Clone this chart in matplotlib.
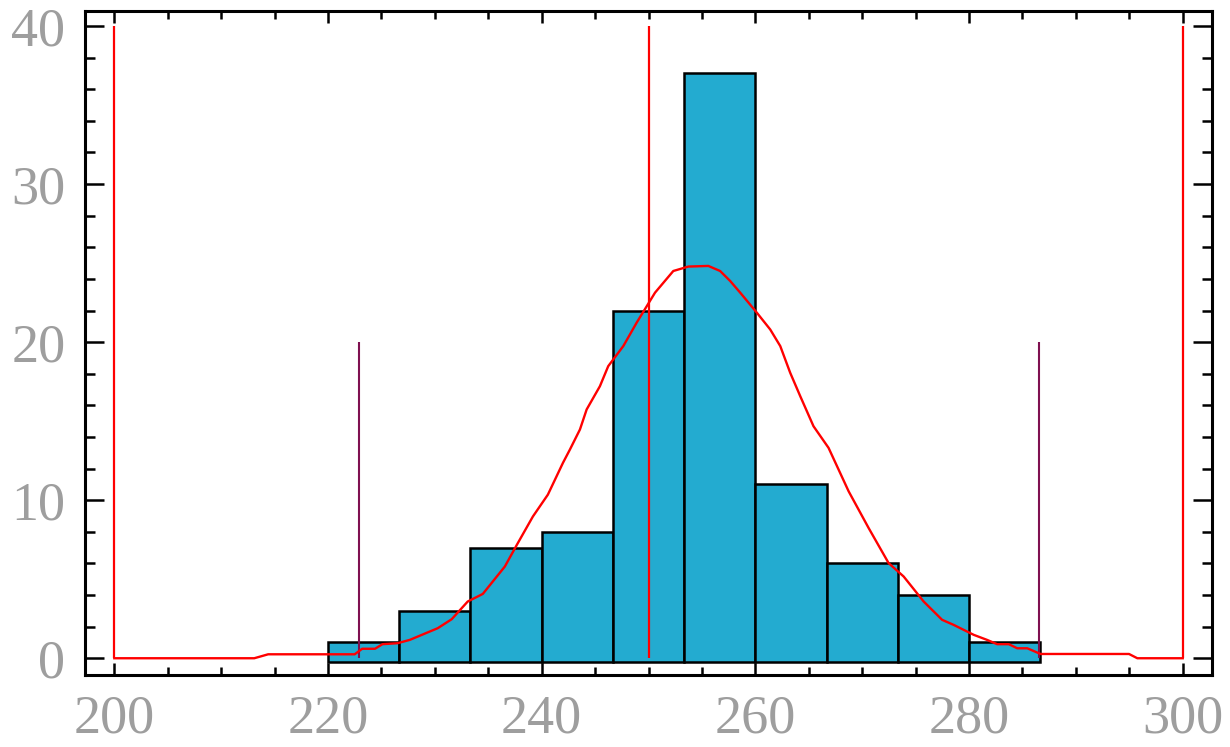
import numpy as np
import matplotlib
matplotlib.use("Agg")
import matplotlib.pyplot as plt
from matplotlib.ticker import MultipleLocator

# histogram: 10 bins of width 20/3 starting at 220
bin_edges = [220, 226.67, 233.33, 240, 246.67, 253.33, 260, 266.67, 273.33, 280, 286.67]
counts = [1, 3, 7, 8, 22, 37, 11, 6, 4, 1]
bar_base = -0.22

# smoothed curve
curve_x = [200, 213.1, 214.4, 222.5, 223.2, 224.4, 225.1, 226.5, 227.65, 230.27,
           231.58, 233.08, 234.49, 236.55, 237.68, 239.18, 240.58, 241.99, 242.64, 243.58,
           244.21, 245.45, 246.23, 247.64, 248.89, 250.61, 252.32, 253.73, 255.6, 256.7,
           257.64, 258.58, 260.14, 261.39, 262.33, 263.26, 264.2, 265.44, 266.85, 268.73,
           270.6, 272.47, 273.88, 275.75, 277.48, 278.56, 280.44, 281.69, 282.63, 283.72,
           284.51, 285.45, 286.69, 294.97, 295.75, 300]
curve_y = [0, 0, 0.25, 0.25, 0.6, 0.6, 0.89, 0.95, 1.16, 1.9,
           2.47, 3.59, 4.07, 5.8, 7.18, 8.97, 10.35, 12.36, 13.2, 14.47,
           15.74, 17.21, 18.48, 19.75, 21.23, 23.13, 24.5, 24.78, 24.82, 24.5,
           23.87, 23.13, 21.86, 20.8, 19.75, 18.06, 16.58, 14.68, 13.31, 10.56,
           8.24, 6.02, 5.17, 3.59, 2.43, 2.11, 1.48, 1.16, 0.89, 0.89,
           0.63, 0.63, 0.27, 0.27, 0, 0]

# limit lines
red_lines = [200, 250, 300]
red_top = 40
purple_lines = [222.9, 286.5]
purple_top = 20

bar_color = "#23abd0"
label_gray = "#9e9e9e"

fig = plt.figure(figsize=(12.3, 7.47), dpi=100)
ax = fig.add_axes([84.7 / 1230, 1 - 675 / 747, (1211.7 - 84.7) / 1230, (675 - 10.5) / 747])

widths = np.diff(bin_edges)
heights = np.array(counts) - bar_base
ax.bar(bin_edges[:-1], heights, width=widths, bottom=bar_base, align="edge",
       color=bar_color, edgecolor="black", linewidth=1.8, zorder=2)

ax.vlines(purple_lines, 0, purple_top, color="#7f1050", linewidth=1.5, zorder=3)
ax.vlines(red_lines, 0, red_top, color="red", linewidth=1.6, zorder=3)
ax.plot(curve_x, curve_y, color="red", linewidth=1.7, zorder=4)

ax.set_xlim(197.23, 302.71)
ax.set_ylim(-1.06, 40.98)

ax.xaxis.set_major_locator(MultipleLocator(20))
ax.xaxis.set_minor_locator(MultipleLocator(5))
ax.yaxis.set_major_locator(MultipleLocator(10))
ax.yaxis.set_minor_locator(MultipleLocator(2))

for s in ax.spines.values():
    s.set_linewidth(2.2)

ax.tick_params(axis="both", which="both", direction="in", top=True, right=True,
               color="black", width=1.8)
ax.tick_params(axis="x", which="major", length=8.6, pad=14)
ax.tick_params(axis="x", which="minor", length=5.8)
ax.tick_params(axis="y", which="major", length=14, pad=14)
ax.tick_params(axis="y", which="minor", length=7)

for lab in ax.get_xticklabels() + ax.get_yticklabels():
    lab.set_fontfamily("Liberation Serif")
    lab.set_fontsize(39)
    lab.set_color(label_gray)

fig.savefig("out.png", dpi=100)
